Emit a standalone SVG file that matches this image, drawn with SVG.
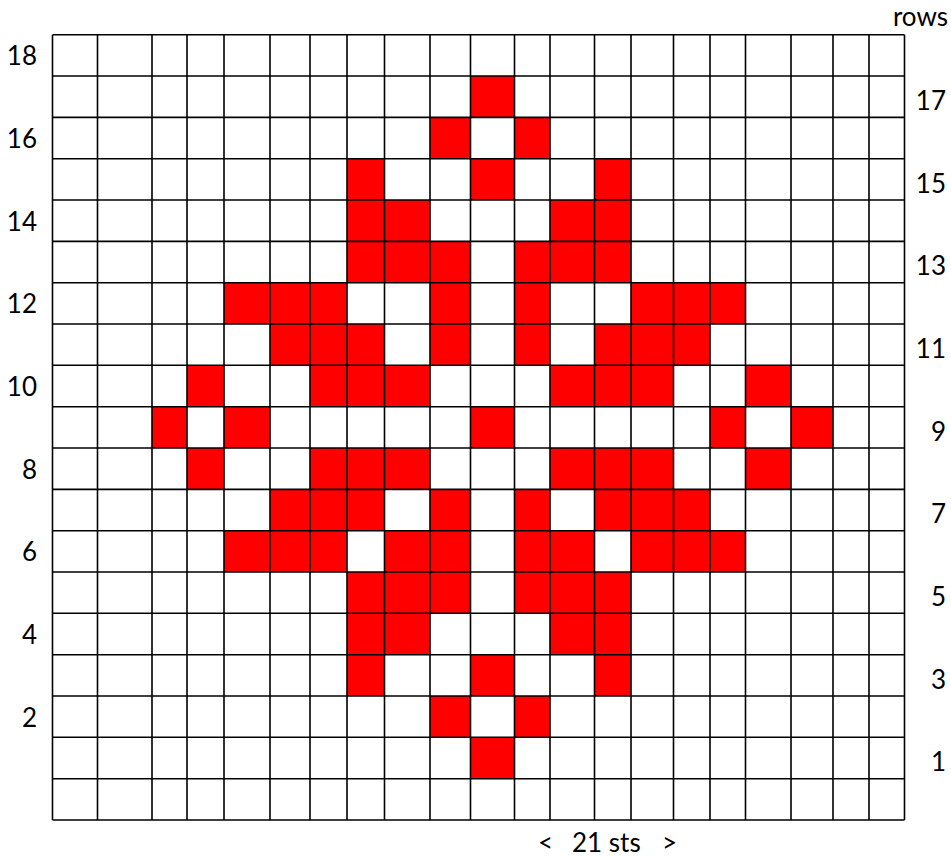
<svg xmlns="http://www.w3.org/2000/svg" width="951" height="857" viewBox="0 0 951 857">
<style>
.cell{fill:#ff0000;stroke:none}
.ln{stroke:#000;stroke-width:1.6;fill:none}
.lbl{font-family:Lato,"Open Sans","Liberation Sans",sans-serif;font-size:26px;fill:#000}
</style>
<rect width="951" height="857" fill="#fff"/>
<g id="red-cells">
<!-- r1 -->
<rect class="cell" x="470.5" y="76" width="44" height="41.4"/>
<!-- r2 -->
<rect class="cell" x="430" y="117.4" width="40.5" height="41.3"/>
<rect class="cell" x="514.5" y="117.4" width="35.5" height="41.3"/>
<!-- r3 -->
<rect class="cell" x="347" y="158.7" width="37.5" height="41.3"/>
<rect class="cell" x="470.5" y="158.7" width="44" height="41.3"/>
<rect class="cell" x="594.5" y="158.7" width="36.5" height="41.3"/>
<!-- r4 -->
<rect class="cell" x="347" y="200" width="83" height="41.4"/>
<rect class="cell" x="550" y="200" width="81" height="41.4"/>
<!-- r5 -->
<rect class="cell" x="347" y="241.4" width="123.5" height="41.3"/>
<rect class="cell" x="514.5" y="241.4" width="116.5" height="41.3"/>
<!-- r6 -->
<rect class="cell" x="224" y="282.7" width="123" height="41.3"/>
<rect class="cell" x="430" y="282.7" width="40.5" height="41.3"/>
<rect class="cell" x="514.5" y="282.7" width="35.5" height="41.3"/>
<rect class="cell" x="631" y="282.7" width="114.5" height="41.3"/>
<!-- r7 -->
<rect class="cell" x="270" y="324" width="114.5" height="41.3"/>
<rect class="cell" x="430" y="324" width="40.5" height="41.3"/>
<rect class="cell" x="514.5" y="324" width="35.5" height="41.3"/>
<rect class="cell" x="594.5" y="324" width="115.5" height="41.3"/>
<!-- r8 -->
<rect class="cell" x="187" y="365.3" width="37" height="41.4"/>
<rect class="cell" x="310" y="365.3" width="120" height="41.4"/>
<rect class="cell" x="550" y="365.3" width="123.5" height="41.4"/>
<rect class="cell" x="745.5" y="365.3" width="45.5" height="41.4"/>
<!-- r9 -->
<rect class="cell" x="152" y="406.7" width="35" height="41.3"/>
<rect class="cell" x="224" y="406.7" width="46" height="41.3"/>
<rect class="cell" x="470.5" y="406.7" width="44" height="41.3"/>
<rect class="cell" x="710" y="406.7" width="35.5" height="41.3"/>
<rect class="cell" x="791" y="406.7" width="42" height="41.3"/>
<!-- r10 -->
<rect class="cell" x="187" y="448" width="37" height="41.4"/>
<rect class="cell" x="310" y="448" width="120" height="41.4"/>
<rect class="cell" x="550" y="448" width="123.5" height="41.4"/>
<rect class="cell" x="745.5" y="448" width="45.5" height="41.4"/>
<!-- r11 -->
<rect class="cell" x="270" y="489.4" width="114.5" height="41.3"/>
<rect class="cell" x="430" y="489.4" width="40.5" height="41.3"/>
<rect class="cell" x="514.5" y="489.4" width="35.5" height="41.3"/>
<rect class="cell" x="594.5" y="489.4" width="115.5" height="41.3"/>
<!-- r12 -->
<rect class="cell" x="224" y="530.7" width="123" height="41.3"/>
<rect class="cell" x="384.5" y="530.7" width="86" height="41.3"/>
<rect class="cell" x="514.5" y="530.7" width="80" height="41.3"/>
<rect class="cell" x="631" y="530.7" width="114.5" height="41.3"/>
<!-- r13 -->
<rect class="cell" x="347" y="572" width="123.5" height="41.3"/>
<rect class="cell" x="514.5" y="572" width="116.5" height="41.3"/>
<!-- r14 -->
<rect class="cell" x="347" y="613.3" width="83" height="41.4"/>
<rect class="cell" x="550" y="613.3" width="81" height="41.4"/>
<!-- r15 -->
<rect class="cell" x="347" y="654.7" width="37.5" height="41.3"/>
<rect class="cell" x="470.5" y="654.7" width="44" height="41.3"/>
<rect class="cell" x="594.5" y="654.7" width="36.5" height="41.3"/>
<!-- r16 -->
<rect class="cell" x="430" y="696" width="40.5" height="41.3"/>
<rect class="cell" x="514.5" y="696" width="35.5" height="41.3"/>
<!-- r17 -->
<rect class="cell" x="470.5" y="737.3" width="44" height="41.4"/>
</g>
<g id="grid-lines" class="ln">
<path d="M52.5 34.7V820M97.5 34.7V820M152 34.7V820M187 34.7V820M224 34.7V820M270 34.7V820M310 34.7V820M347 34.7V820M384.5 34.7V820M430 34.7V820M470.5 34.7V820M514.5 34.7V820M550 34.7V820M594.5 34.7V820M631 34.7V820M673.5 34.7V820M710 34.7V820M745.5 34.7V820M791 34.7V820M833 34.7V820M869 34.7V820M904.5 34.7V820"/>
<path d="M52.5 34.7H904.5M52.5 76H904.5M52.5 117.4H904.5M52.5 158.7H904.5M52.5 200H904.5M52.5 241.4H904.5M52.5 282.7H904.5M52.5 324H904.5M52.5 365.3H904.5M52.5 406.7H904.5M52.5 448H904.5M52.5 489.4H904.5M52.5 530.7H904.5M52.5 572H904.5M52.5 613.3H904.5M52.5 654.7H904.5M52.5 696H904.5M52.5 737.3H904.5M52.5 778.7H904.5M52.5 820H904.5"/>
</g>
<g id="left-labels" class="lbl" text-anchor="end">
<text x="37" y="65">18</text>
<text x="37" y="148">16</text>
<text x="37" y="231">14</text>
<text x="37" y="313">12</text>
<text x="37" y="396">10</text>
<text x="37" y="479">8</text>
<text x="37" y="561">6</text>
<text x="37" y="644">4</text>
<text x="37" y="727">2</text>
</g>
<g id="right-labels" class="lbl" text-anchor="end">
<text x="948" y="26">rows</text>
<text x="946" y="110">17</text>
<text x="946" y="193">15</text>
<text x="946" y="275">13</text>
<text x="946" y="358">11</text>
<text x="946" y="441">9</text>
<text x="946" y="523">7</text>
<text x="946" y="606">5</text>
<text x="946" y="689">3</text>
<text x="946" y="771">1</text>
</g>
<g id="bottom-label" class="lbl">
<text x="0" y="852"><tspan x="538">&lt;</tspan><tspan x="572">21 sts</tspan><tspan x="662">&gt;</tspan></text>
</g>
</svg>
